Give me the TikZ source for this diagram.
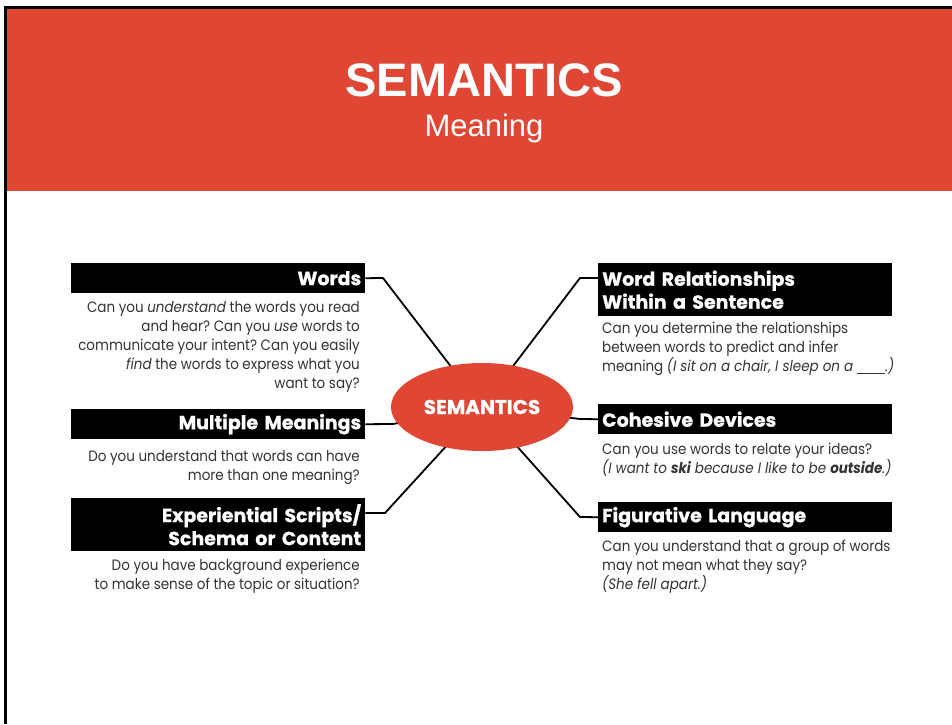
\documentclass[tikz,border=0pt]{standalone}
\usepackage{fontspec}
\setmainfont{Poppins}[FakeStretch=0.9]
\newfontfamily\headfont{Poppins}[BoldFeatures={FakeBold=0.8}]
\newfontfamily\titlefont{Liberation Sans}
\usetikzlibrary{shapes.geometric}
\definecolor{semred}{HTML}{DF4634}
\definecolor{bodygray}{HTML}{333333}
\frenchspacing
\tikzset{
  headbox/.style={fill=black, text=white, inner ysep=0pt, inner xsep=4pt,
    text width=286pt, minimum height=30pt,
    font=\headfont\fontsize{19}{23}\selectfont\bfseries},
  lefthead/.style={headbox, anchor=north west, align=right},
  righthead/.style={headbox, anchor=north west, align=left},
  bodytext/.style={inner sep=0pt, text=bodygray,
    font=\fontsize{15}{19}\selectfont},
  leftbody/.style={bodytext, anchor=north east, align=right},
  rightbody/.style={bodytext, anchor=north west, align=left},
  hub/.style={ellipse, fill=semred, minimum width=182pt, minimum height=88pt,
    inner sep=0pt, text=white, font=\headfont\fontsize{20}{23}\selectfont\bfseries},
  link/.style={draw=black, line width=1.8pt, line join=round}
}
\begin{document}
\begin{tikzpicture}[x=1pt,y=-1pt]
\useasboundingbox (0,0) rectangle (952,724);
% slide frame and title band
\fill[black] (4,6) rectangle (952,9);
\fill[black] (4,6) rectangle (7,724);
\fill[semred] (7,9) rectangle (952,191);
\node[anchor=base, text=white, inner sep=0pt, font=\titlefont\fontsize{47}{50}\selectfont\bfseries] (title) at (484,96) {SEMANTICS};
\node[anchor=base, text=white, inner sep=0pt, font=\titlefont\fontsize{31}{34}\selectfont] (subtitle) at (484,136) {Meaning};

% left column
\node[lefthead] (words) at (71,263) {Words};
\node[leftbody] (wordsT) at (360,301) {Can you \emph{understand} the words you read\\
  and hear? Can you \emph{use} words to\\
  communicate your intent? Can you easily\\
  \emph{find} the words to express what you\\
  want to say?};

\node[lefthead] (multi) at (71,409) {Multiple Meanings};
\node[leftbody] (multiT) at (360,450) {Do you understand that words can have\\
  more than one meaning?};

\node[lefthead, minimum height=53pt] (exper) at (71,498) {Experiential Scripts/\\Schema or Content};
\node[leftbody] (experT) at (360,559) {Do you have background experience\\
  to make sense of the topic or situation?};

% right column
\node[righthead, minimum height=53pt] (rel) at (598,263) {Word Relationships\\Within a Sentence};
\node[rightbody] (relT) at (602,322) {Can you determine the relationships\\
  between words to predict and infer\\
  meaning \emph{(I sit on a chair, I sleep on a \underline{\hspace{28pt}}.)}};

\node[righthead] (cohes) at (598,404) {Cohesive Devices};
\node[rightbody] (cohesT) at (602,443) {Can you use words to relate your ideas?\\
  \emph{(I want to \textbf{ski} because I like to be \textbf{outside}.)}};

\node[righthead] (figur) at (598,502) {Figurative Language};
\node[rightbody] (figurT) at (602,540) {Can you understand that a group of words\\
  may not mean what they say?\\
  \emph{(She fell apart.)}};

% elbows of the connectors
\coordinate (wordsE) at (383,278);
\coordinate (multiE) at (393,424);
\coordinate (experE) at (385,513);
\coordinate (relE) at (580,278);
\coordinate (cohesE) at (580,419);
\coordinate (figurE) at (580,517);
\coordinate (hubC) at (482,407);

\draw[link] (words.east) -- (wordsE) -- (hubC);
\draw[link] (multi.east) -- (multiE) -- (hubC);
\draw[link] (exper.east |- experE) -- (experE) -- (hubC);
\draw[link] (rel.west |- relE) -- (relE) -- (hubC);
\draw[link] (cohes.west) -- (cohesE) -- (hubC);
\draw[link] (figur.west) -- (figurE) -- (hubC);

% central ellipse, drawn over the connector ends
\node[hub] (sem) at (hubC) {SEMANTICS};
\end{tikzpicture}
\end{document}
